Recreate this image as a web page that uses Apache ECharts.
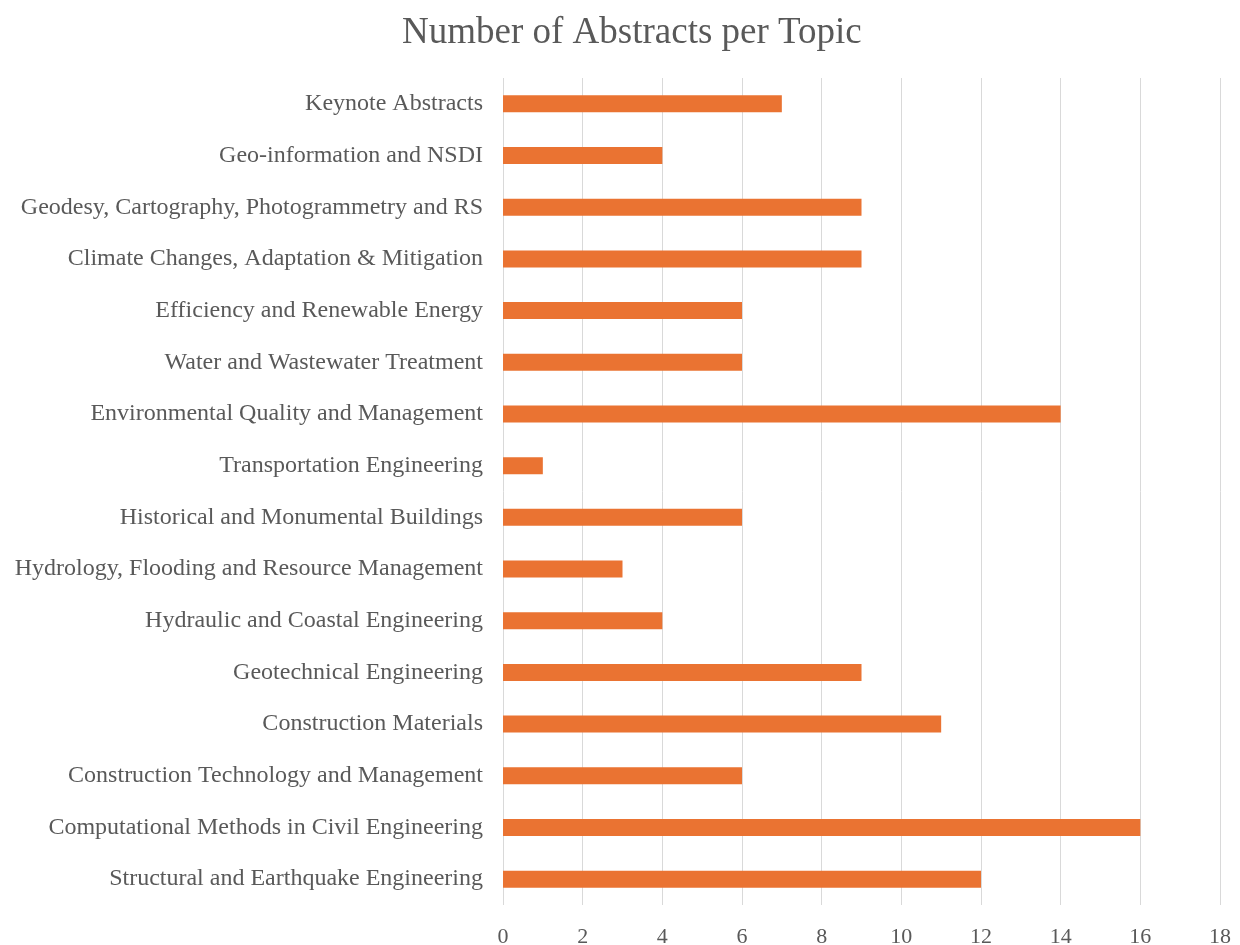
<!DOCTYPE html>
<html>
<head>
<meta charset="utf-8">
<script src="https://cdn.jsdelivr.net/npm/echarts@6/dist/echarts.min.js"></script>
<style>html,body{margin:0;padding:0;background:#fff}#c{width:1240px;height:945px}</style>
</head>
<body>
<div id="c"></div>
<script>
const categories = [
  "Structural and Earthquake Engineering",
  "Computational Methods in Civil Engineering",
  "Construction Technology and Management",
  "Construction Materials",
  "Geotechnical Engineering",
  "Hydraulic and Coastal Engineering",
  "Hydrology, Flooding and Resource Management",
  "Historical and Monumental Buildings",
  "Transportation Engineering",
  "Environmental Quality and Management",
  "Water and Wastewater Treatment",
  "Efficiency and Renewable Energy",
  "Climate Changes, Adaptation & Mitigation",
  "Geodesy, Cartography, Photogrammetry and RS",
  "Geo-information and NSDI",
  "Keynote Abstracts"
];
const abstractCounts = [12, 16, 6, 11, 9, 4, 3, 6, 1, 14, 6, 6, 9, 9, 4, 7];
const xTicks = [0, 2, 4, 6, 8, 10, 12, 14, 16, 18];

const chart = echarts.init(document.getElementById('c'), null, {renderer: 'canvas'});
const font = '"Liberation Serif", "Times New Roman", serif';
chart.setOption({
  animation: false,
  backgroundColor: '#ffffff',
  title: {
    text: 'Number of Abstracts per Topic',
    left: 397,
    top: 10,
    textStyle: {fontFamily: font, fontSize: 37, fontWeight: 'normal', color: '#595959'}
  },
  grid: {left: 503, right: 20, top: 78, bottom: 40, containLabel: false, outerBoundsMode: 'none'},
  xAxis: {
    type: 'value',
    min: xTicks[0],
    max: xTicks[xTicks.length - 1],
    interval: 2,
    axisLine: {show: false},
    axisTick: {show: false},
    splitLine: {show: true, lineStyle: {color: '#d9d9d9', width: 1}},
    axisLabel: {fontFamily: font, fontSize: 22, color: '#595959', margin: 21}
  },
  yAxis: {
    type: 'category',
    data: categories,
    axisLine: {show: false},
    axisTick: {show: false},
    splitLine: {show: false},
    axisLabel: {fontFamily: font, fontSize: 24, color: '#595959', margin: 20}
  },
  series: [{
    type: 'bar',
    data: abstractCounts,
    barWidth: 17,
    itemStyle: {color: '#EA7332'}
  }]
});
</script>
</body>
</html>
